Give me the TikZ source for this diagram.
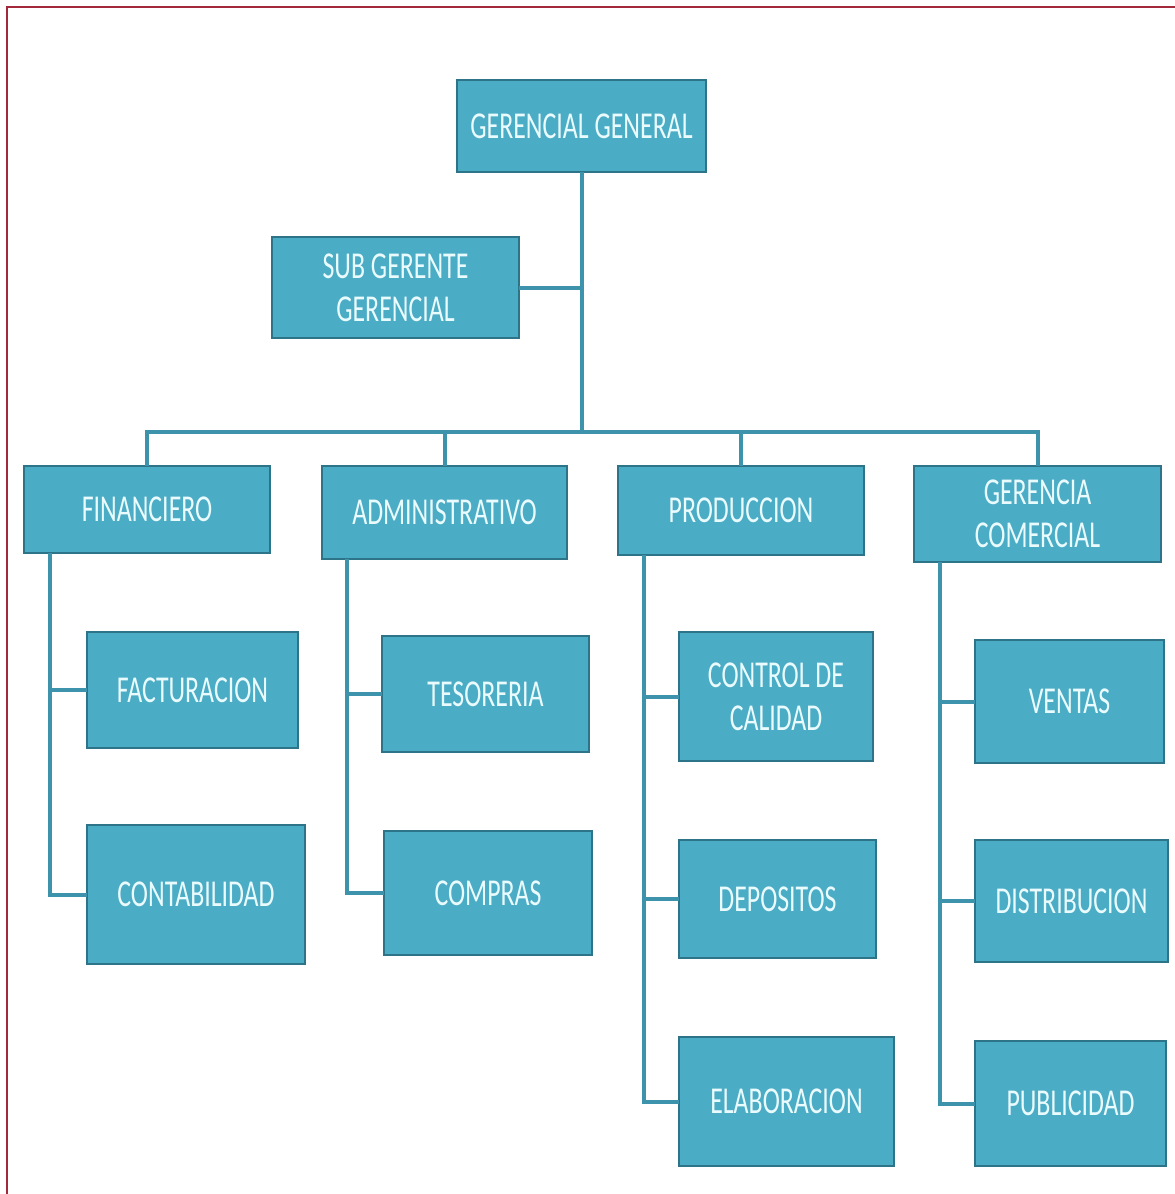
\documentclass[tikz,border=0pt]{standalone}
\usepackage{fontspec}
\newfontfamily\boxfont[FakeStretch=0.68]{Carlito}
\definecolor{boxfill}{HTML}{4BACC6}
\definecolor{boxedge}{HTML}{2E7488}
\definecolor{connc}{HTML}{3C93AB}
\definecolor{boxtext}{HTML}{EAFBFD}
\definecolor{frame}{HTML}{A3283A}
\tikzset{
  box/.style={draw=boxedge, line width=2.5pt, fill=boxfill, text=boxtext,
    font=\boxfont\fontsize{38}{43}\selectfont, align=center,
    inner sep=0pt, outer sep=0pt},
  conn/.style={draw=connc, line width=4pt},
}
\begin{document}
\begin{tikzpicture}[x=1pt,y=-1pt]
\useasboundingbox (0,0) rectangle (1175,1194);
\draw[frame, line width=2pt] (6.5,1194) -- (6.5,6.5) -- (1175,6.5);

% connectors first (behind boxes)
\coordinate (bus) at (581.5,432);
\node[box, minimum width=249pt, minimum height=92pt] (gg) at (581.5,126) {GERENCIAL GENERAL};
\node[box, minimum width=247pt, minimum height=101pt] (sub) at (395.5,287.5) {SUB GERENTE\\GERENCIAL};
\node[box, minimum width=246pt, minimum height=87pt] (fin) at (147,509.5) {FINANCIERO};
\node[box, minimum width=245pt, minimum height=93pt] (adm) at (444.5,512.5) {ADMINISTRATIVO};
\node[box, minimum width=246pt, minimum height=89pt] (prod) at (741,510.5) {PRODUCCION};
\node[box, minimum width=247pt, minimum height=96pt] (gc) at (1037.5,514) {GERENCIA\\COMERCIAL};
\node[box, minimum width=211pt, minimum height=116pt] (fac) at (192.5,690) {FACTURACION};
\node[box, minimum width=218pt, minimum height=139pt] (cont) at (196,894.5) {CONTABILIDAD};
\node[box, minimum width=207pt, minimum height=116pt] (tes) at (485.5,694) {TESORERIA};
\node[box, minimum width=208pt, minimum height=124pt] (com) at (488,893) {COMPRAS};
\node[box, minimum width=194pt, minimum height=129pt] (cdc) at (776,696.5) {CONTROL DE\\CALIDAD};
\node[box, minimum width=197pt, minimum height=118pt] (dep) at (777.5,899) {DEPOSITOS};
\node[box, minimum width=215pt, minimum height=129pt] (ela) at (786.5,1101.5) {ELABORACION};
\node[box, minimum width=189pt, minimum height=123pt] (ven) at (1069.5,701.5) {VENTAS};
\node[box, minimum width=193pt, minimum height=122pt] (dis) at (1071.5,901) {DISTRIBUCION};
\node[box, minimum width=191pt, minimum height=125pt] (pub) at (1070.5,1103.5) {PUBLICIDAD};

\begin{scope}[on background layer/.try]
\end{scope}

% trunk and sub-manager branch
\draw[conn] (gg.south) -- (bus);
\draw[conn] (sub.east) -- (sub.east -| gg.south);
% bus
\draw[conn] (fin.north) -- (fin.north |- bus) -- (gc.north |- bus) -- (gc.north);
\draw[conn] (adm.north) -- (adm.north |- bus);
\draw[conn] (prod.north) -- (prod.north |- bus);

% department verticals
\coordinate (fv) at ([xshift=26pt]fin.south west);
\coordinate (av) at ([xshift=25pt]adm.south west);
\coordinate (pv) at ([xshift=26pt]prod.south west);
\coordinate (gv) at ([xshift=26pt]gc.south west);
\draw[conn] (fv) |- (fac.west);
\draw[conn] (fv) |- (cont.west);
\draw[conn] (av) |- (tes.west);
\draw[conn] (av) |- (com.west);
\draw[conn] (pv) |- (cdc.west);
\draw[conn] (pv) |- (dep.west);
\draw[conn] (pv) |- (ela.west);
\draw[conn] (gv) |- (ven.west);
\draw[conn] (gv) |- (dis.west);
\draw[conn] (gv) |- (pub.west);
\end{tikzpicture}
\end{document}
